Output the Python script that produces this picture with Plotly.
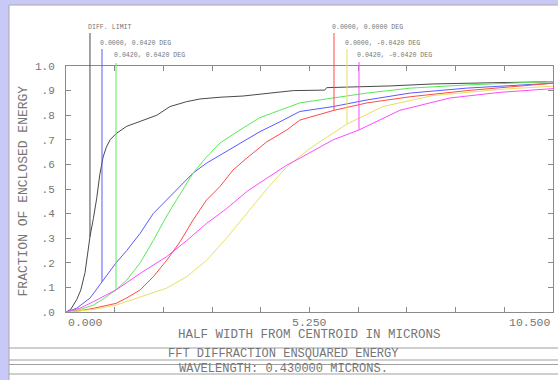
import numpy as np
import plotly.graph_objects as go

# ---------------- data ----------------
series_names = ["DIFF. LIMIT", "0.0000, 0.0420 DEG", "0.0420, 0.0420 DEG",
                "0.0000, 0.0000 DEG", "0.0000, -0.0420 DEG", "0.0420, -0.0420 DEG"]
series_colors = ["#4a4a4a", "#5a5aff", "#5ae85a", "#ff4a4a", "#e8e060", "#ff4aff"]

diff_x = [0, 0.10, 0.23, 0.32, 0.41, 0.52, 0.59, 0.66, 0.73, 0.80, 0.87, 0.95, 1.08, 1.31, 1.60,
          1.81, 1.96, 2.24, 2.60, 2.89, 3.32, 3.82, 4.33, 4.90, 5.58, 5.62, 6.99, 7.91, 9.21, 10.5]
diff_y = [0, 0.01, 0.05, 0.09, 0.16, 0.31, 0.38, 0.46, 0.56, 0.63, 0.67, 0.70, 0.725, 0.755, 0.775,
          0.79, 0.80, 0.835, 0.855, 0.866, 0.873, 0.878, 0.889, 0.90, 0.902, 0.912, 0.919, 0.927, 0.932, 0.936]

blue_x = [0, 0.23, 0.52, 0.776, 1.08, 1.31, 1.60, 1.88, 2.17, 2.46, 2.74, 3.03, 3.32, 3.75, 4.18,
          4.61, 5.04, 5.76, 6.49, 7.42, 8.64, 10.5]
blue_y = [0, 0.015, 0.057, 0.123, 0.20, 0.25, 0.32, 0.40, 0.455, 0.51, 0.565, 0.605, 0.638, 0.687, 0.733,
          0.773, 0.815, 0.835, 0.862, 0.89, 0.91, 0.93]

green_x = [0, 0.30, 0.59, 0.82, 1.078, 1.31, 1.60, 1.88, 2.17, 2.46, 2.74, 3.03, 3.32, 3.75, 4.18,
           4.61, 5.04, 5.76, 6.49, 7.42, 8.64, 10.5]
green_y = [0, 0.01, 0.028, 0.055, 0.09, 0.13, 0.20, 0.29, 0.39, 0.48, 0.565, 0.63, 0.687, 0.74, 0.79,
           0.82, 0.85, 0.87, 0.89, 0.91, 0.923, 0.937]

red_x = [0, 0.30, 0.59, 1.08, 1.31, 1.60, 1.88, 2.17, 2.46, 2.74, 3.03, 3.32, 3.60, 3.90, 4.33,
         4.76, 5.04, 5.78, 6.49, 7.42, 8.64, 10.5]
red_y = [0, 0.005, 0.015, 0.035, 0.057, 0.09, 0.143, 0.21, 0.286, 0.374, 0.455, 0.51, 0.577, 0.626, 0.692,
         0.74, 0.78, 0.82, 0.85, 0.875, 0.90, 0.93]

yellow_x = [0, 0.59, 1.08, 1.60, 2.17, 2.60, 3.03, 3.46, 3.90, 4.33, 4.76, 5.26, 6.058, 6.83, 7.91, 9.36, 10.5]
yellow_y = [0, 0.01, 0.028, 0.062, 0.097, 0.143, 0.21, 0.30, 0.40, 0.50, 0.59, 0.665, 0.764, 0.835, 0.88, 0.905, 0.918]

magenta_x = [0, 0.30, 0.59, 1.08, 1.60, 2.17, 2.60, 3.03, 3.46, 3.90, 4.33, 4.76, 5.04, 5.76, 6.317,
             7.20, 8.28, 9.36, 10.5]
magenta_y = [0, 0.015, 0.042, 0.09, 0.157, 0.225, 0.29, 0.36, 0.42, 0.49, 0.544, 0.597, 0.625, 0.70, 0.74,
             0.82, 0.87, 0.893, 0.908]

# legend marker positions (x in microns)
marker_x = [0.517, 0.776, 1.078, 5.778, 6.058, 6.317]

x_tick_vals = [0, 5.25, 10.5]
x_tick_text = ["0.000", "5.250", "10.500"]
y_tick_vals = [1.0, 0.9, 0.8, 0.7, 0.6, 0.5, 0.4, 0.3, 0.2, 0.1, 0.0]
y_tick_text = ["1.0", ".9", ".8", ".7", ".6", ".5", ".4", ".3", ".2", ".1", ".0"]

x_title = "HALF WIDTH FROM CENTROID IN MICRONS"
y_title = "FRACTION OF ENCLOSED ENERGY"
title_lines = ["FFT DIFFRACTION ENSQUARED ENERGY", "WAVELENGTH: 0.430000 MICRONS."]

# ---------------- figure ----------------
xs_all = [diff_x, blue_x, green_x, red_x, yellow_x, magenta_x]
ys_all = [diff_y, blue_y, green_y, red_y, yellow_y, magenta_y]

FONT = "Liberation Mono"
TXT = "#767676"
W, H = 558, 380
L, R, T, B = 66, 5, 66, 68
pw, ph = W - L - R, H - T - B


def px_to_paper_x(px):
    return (px - L) / pw


def py_to_paper_y(py):
    return (H - B - py) / ph


fig = go.Figure()
for xs, ys, name, col in zip(xs_all, ys_all, series_names, series_colors):
    fig.add_trace(go.Scatter(x=xs, y=ys, mode="lines", name=name,
                             line=dict(color=col, width=1), showlegend=False,
                             hoverinfo="skip"))

shapes = []
annotations = []

# white panel
shapes.append(dict(type="rect", xref="paper", yref="paper", layer="below",
                   x0=px_to_paper_x(9), x1=px_to_paper_x(W + 5),
                   y0=py_to_paper_y(H + 5), y1=py_to_paper_y(5),
                   fillcolor="white", line=dict(color="#a8a8a8", width=1)))

# title box lines
for py in [348, 360, 364.5, 374]:
    shapes.append(dict(type="line", xref="paper", yref="paper",
                       x0=px_to_paper_x(9), x1=px_to_paper_x(W + 5),
                       y0=py_to_paper_y(py), y1=py_to_paper_y(py),
                       line=dict(color="#a0a0a0", width=1.2)))

# legend labels with marker lines
label_py = [27, 43, 56, 27, 43, 56]
line_top_py = [33, 49, 63, 33, 49, 62]
for i, (mx, name, col) in enumerate(zip(marker_x, series_names, series_colors)):
    my = float(np.interp(mx, xs_all[i], ys_all[i]))
    shapes.append(dict(type="line", xref="x", yref="y", x0=mx, x1=mx, y0=my, y1=1.0,
                       line=dict(color=col, width=1)))
    shapes.append(dict(type="line", xref="x", yref="paper", x0=mx, x1=mx,
                       y0=1.0, y1=py_to_paper_y(line_top_py[i]),
                       line=dict(color=col, width=1)))
    annotations.append(dict(text=name, xref="x", yref="paper", x=mx,
                            y=py_to_paper_y(label_py[i]), xanchor="left", yanchor="middle",
                            xshift=-4, showarrow=False,
                            font=dict(family=FONT, size=6.6, color=TXT)))

# x tick labels
for v, t, anc in zip(x_tick_vals, x_tick_text, ["left", "center", "right"]):
    annotations.append(dict(text=t, xref="x", yref="paper", x=v, y=0, yshift=-10,
                            xanchor=anc, yanchor="middle", showarrow=False,
                            font=dict(family=FONT, size=11.5, color=TXT)))

# axis titles
annotations.append(dict(text=x_title, xref="paper", yref="paper", x=0.5, y=0, yshift=-23,
                        xanchor="center", yanchor="middle", showarrow=False,
                        font=dict(family=FONT, size=12.5, color=TXT)))
annotations.append(dict(text=y_title, xref="paper", yref="paper", x=0, y=0.49, xshift=-43,
                        xanchor="center", yanchor="middle", textangle=-90, showarrow=False,
                        font=dict(family=FONT, size=13, color=TXT)))

# titles
for t, py in zip(title_lines, [354, 369]):
    annotations.append(dict(text=t, xref="paper", yref="paper", x=px_to_paper_x(283),
                            y=py_to_paper_y(py), xanchor="center", yanchor="middle",
                            showarrow=False, font=dict(family=FONT, size=12, color=TXT)))

axis_common = dict(showgrid=False, zeroline=False, showline=True, linecolor="#8a8a8a",
                   linewidth=1, mirror="ticks", ticks="inside", ticklen=5,
                   tickcolor="#8a8a8a", tickwidth=1, fixedrange=True)

fig.update_layout(
    width=W, height=H,
    margin=dict(l=L, r=R, t=T, b=B, pad=0),
    paper_bgcolor="#c9c9f7",
    plot_bgcolor="white",
    xaxis=dict(range=[0, 10.5], tick0=0, dtick=1.05, showticklabels=False, **axis_common),
    yaxis=dict(range=[0, 1], tickmode="array", tickvals=y_tick_vals, ticktext=y_tick_text,
               ticklabelstandoff=8, tickfont=dict(family=FONT, size=11, color=TXT),
               **axis_common),
    shapes=shapes,
    annotations=annotations,
    showlegend=False,
    hovermode=False,
)

fig.write_html("out.html", config={"displayModeBar": False, "staticPlot": True},
               post_script="document.body.style.margin='0';document.body.style.overflow='hidden';")
